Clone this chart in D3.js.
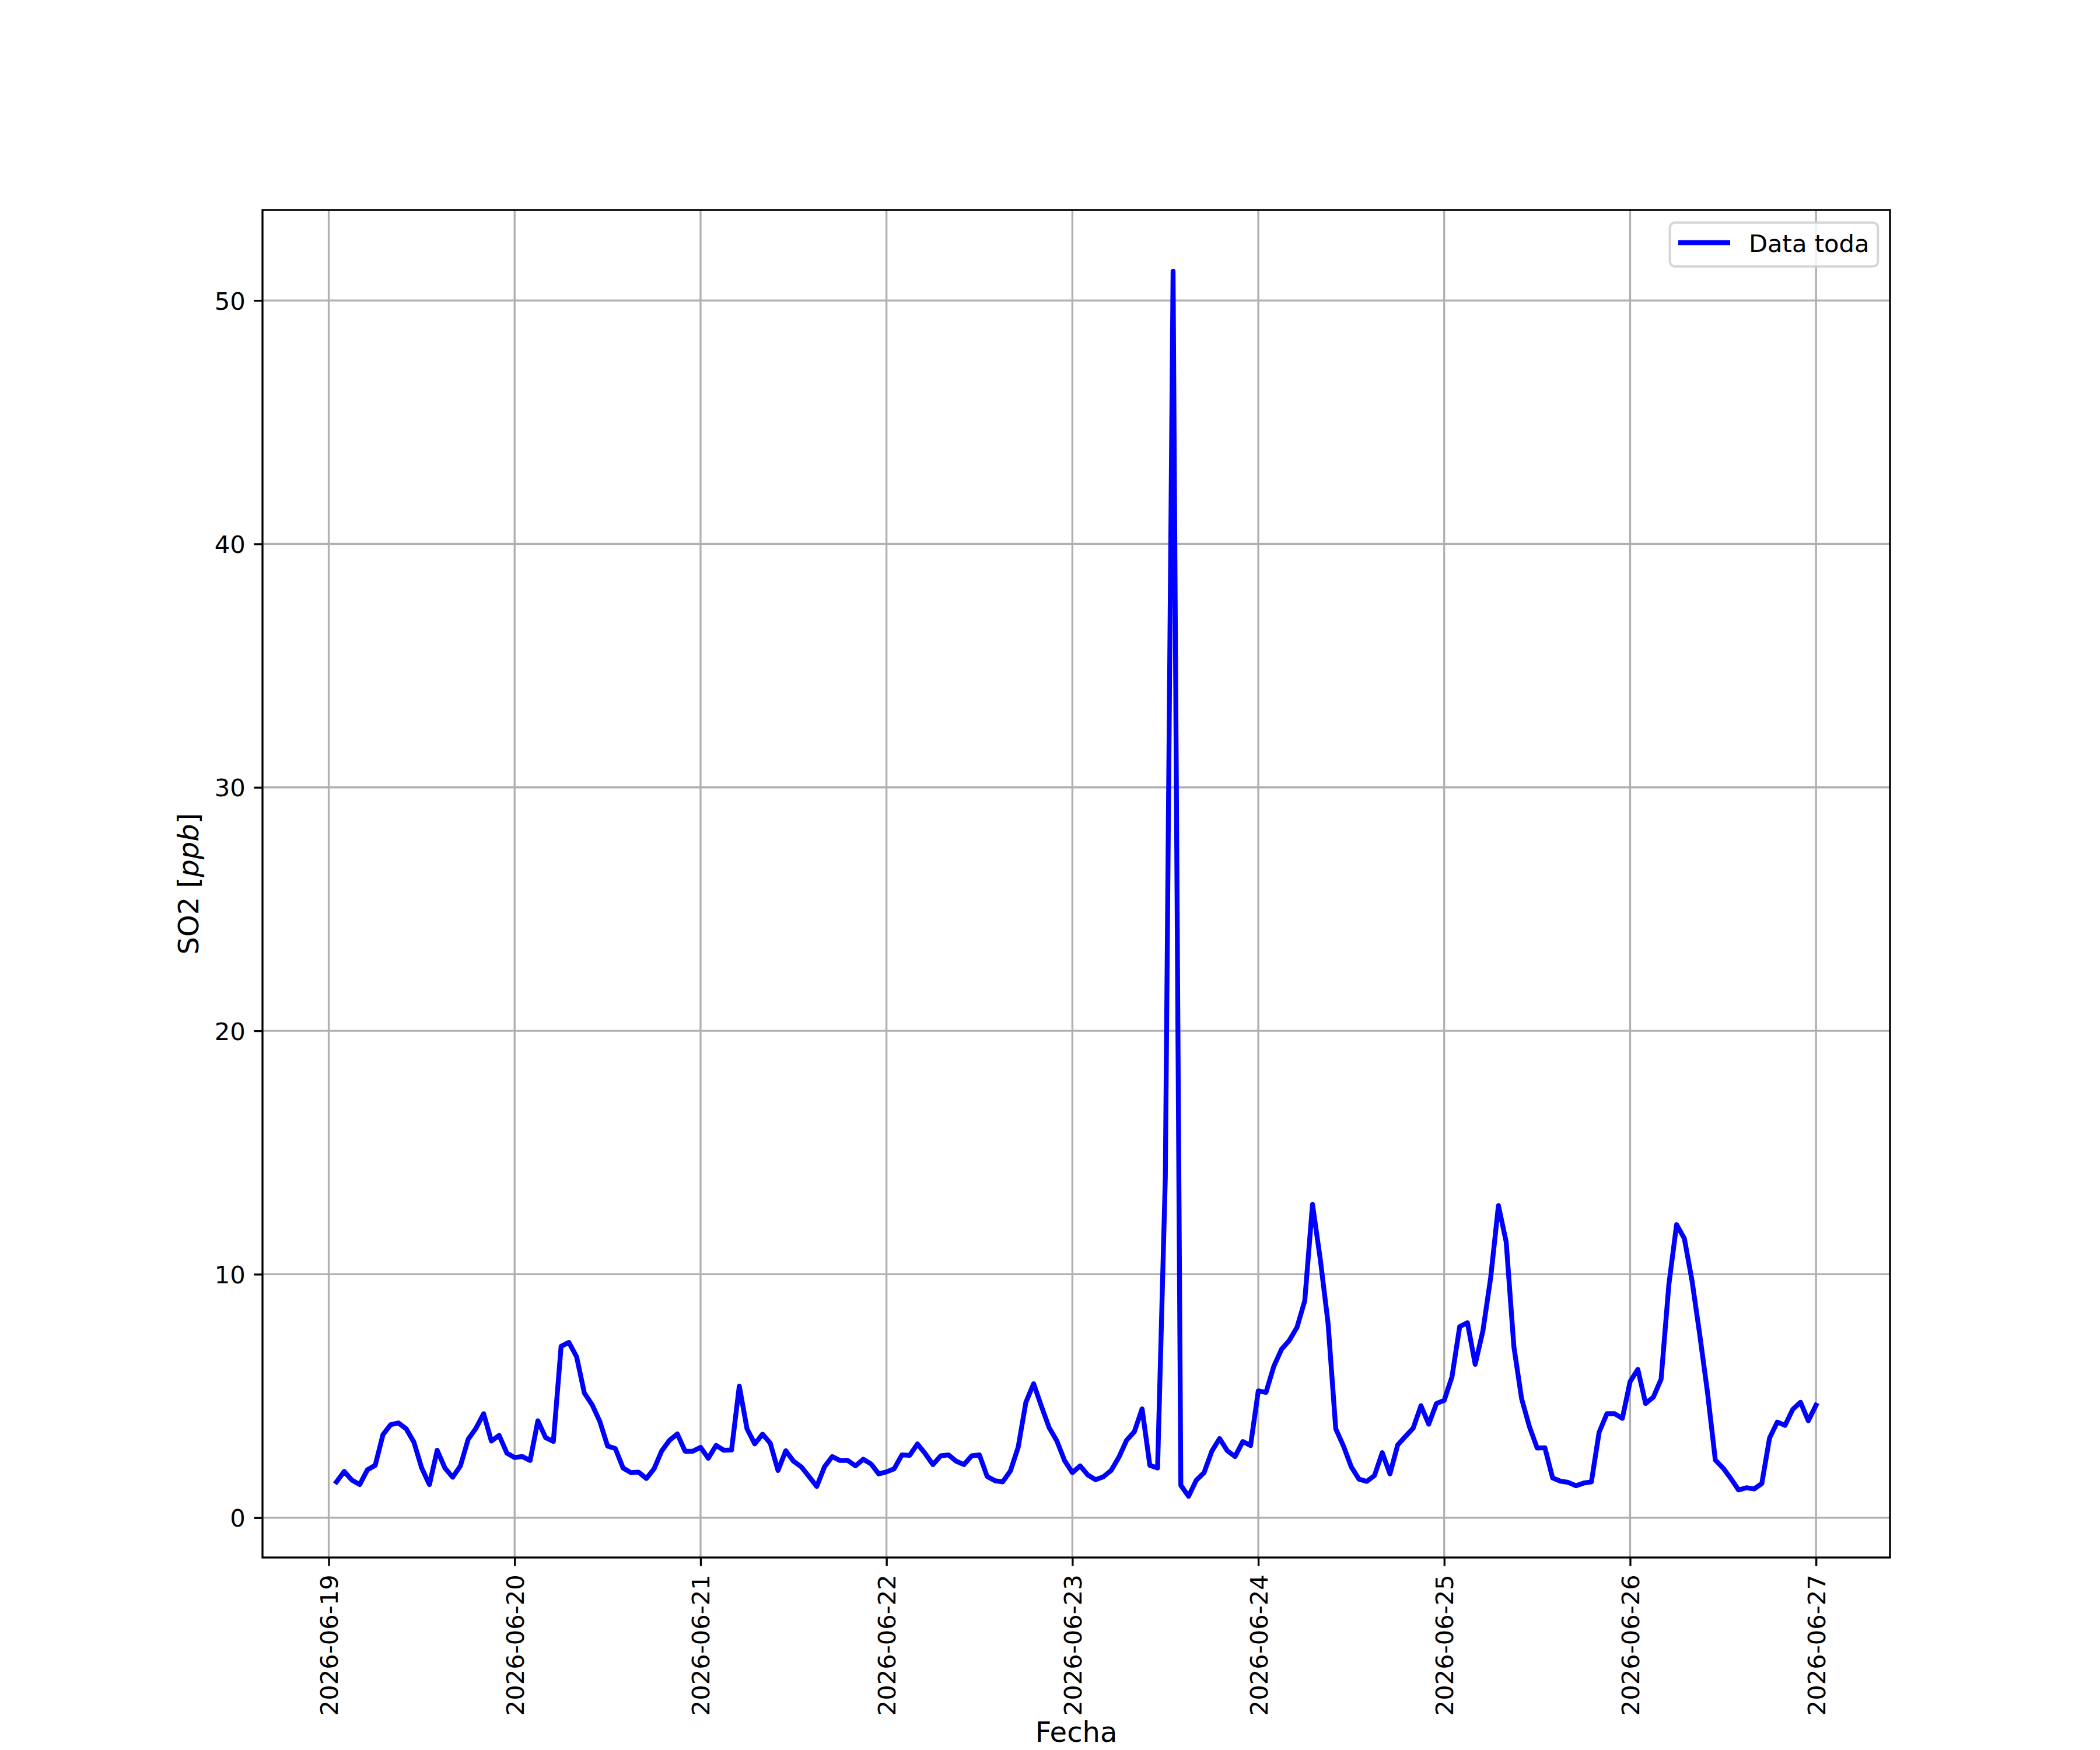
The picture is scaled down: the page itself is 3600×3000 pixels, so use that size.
<!DOCTYPE html>
<html>
<head>
<meta charset="utf-8">
<script src="https://cdn.jsdelivr.net/npm/d3@7"></script>
<style>
  html, body { margin: 0; padding: 0; background: #ffffff; }
  svg { display: block; }
  text { font-family: "DejaVu Sans", sans-serif; }
</style>
</head>
<body>
<script>
// ---------------- DATA ----------------
const dayLabels = ["2026-06-19", "2026-06-20", "2026-06-21", "2026-06-22", "2026-06-23",
                   "2026-06-24", "2026-06-25", "2026-06-26", "2026-06-27"];
const yTicks = [0, 10, 20, 30, 40, 50];
const seriesName = "Data toda";
const firstHourOfFirstDay = 1;   // series starts 2026-06-19 01:00

// hourly SO2 [ppb]; each array starts at that day's first sample
const so2Jun19 = [1.47, 1.90, 1.54, 1.36, 1.97, 2.15, 3.41, 3.82, 3.89, 3.65, 3.10, 2.04,
                  1.36, 2.77, 2.04, 1.66, 2.13, 3.22, 3.67, 4.27, 3.15, 3.38, 2.65];
const so2Jun20 = [2.47, 2.51, 2.35, 3.98, 3.29, 3.13, 7.04, 7.20, 6.61, 5.12, 4.64, 3.95,
                  2.94, 2.84, 2.04, 1.85, 1.87, 1.61, 2.01, 2.75, 3.18, 3.44, 2.73, 2.73];
const so2Jun21 = [2.89, 2.44, 2.97, 2.77, 2.78, 5.40, 3.65, 3.03, 3.43, 3.06, 1.94, 2.75,
                  2.32, 2.09, 1.69, 1.28, 2.09, 2.51, 2.35, 2.35, 2.13, 2.40, 2.21, 1.80];
const so2Jun22 = [1.88, 2.01, 2.58, 2.56, 3.03, 2.63, 2.18, 2.54, 2.58, 2.32, 2.18, 2.54,
                  2.58, 1.69, 1.52, 1.47, 1.92, 2.89, 4.74, 5.50, 4.58, 3.70, 3.15, 2.34];
const so2Jun23 = [1.85, 2.13, 1.75, 1.56, 1.68, 1.94, 2.48, 3.18, 3.53, 4.47, 2.15, 2.04,
                  14.0, 51.2, 1.33, 0.88, 1.54, 1.85, 2.73, 3.25, 2.75, 2.51, 3.13, 2.96];
const so2Jun24 = [5.21, 5.15, 6.21, 6.92, 7.28, 7.82, 8.91, 12.87, 10.62, 8.01, 3.65, 2.94,
                  2.09, 1.58, 1.49, 1.73, 2.67, 1.80, 2.99, 3.34, 3.68, 4.60, 3.84, 4.69];
const so2Jun25 = [4.82, 5.78, 7.85, 8.01, 6.30, 7.68, 9.86, 12.82, 11.33, 7.01, 4.88, 3.74,
                  2.86, 2.87, 1.63, 1.50, 1.45, 1.31, 1.42, 1.47, 3.51, 4.27, 4.27, 4.08];
const so2Jun26 = [5.59, 6.09, 4.69, 4.95, 5.69, 9.57, 12.04, 11.47, 9.72, 7.49, 5.12, 2.37,
                  2.04, 1.61, 1.14, 1.23, 1.18, 1.40, 3.27, 3.93, 3.79, 4.45, 4.74, 3.98];
const so2Jun27 = [4.62];

// ---------------- BUILD ----------------
const dailyArrays = [so2Jun19, so2Jun20, so2Jun21, so2Jun22, so2Jun23, so2Jun24, so2Jun25, so2Jun26, so2Jun27];
const parseDay = d3.utcParse("%Y-%m-%d");
const dayDates = dayLabels.map(parseDay);
const data = [];
dailyArrays.forEach((arr, i) => {
  const startHour = i === 0 ? firstHourOfFirstDay : 0;
  arr.forEach((v, j) => {
    data.push({ t: d3.utcHour.offset(dayDates[i], startHour + j), v: v });
  });
});

// ---------------- LAYOUT ----------------
const W = 3600, H = 3000;
const L = 450, R = 3240, T = 360, B = 2670;
const PT = 300 / 72;               // px per point
const tickFont = 10 * PT;          // 41.67
const labelFont = 48;
const tickLen = 3.5 * PT;
const tickPad = 3.5 * PT;
const thin = 0.8 * PT;
const lineW = 2 * PT;

const tExt = d3.extent(data, d => d.t);
const tSpan = tExt[1] - tExt[0];
const x = d3.scaleUtc()
  .domain([new Date(+tExt[0] - 0.05 * tSpan), new Date(+tExt[1] + 0.05 * tSpan)])
  .range([L, R]);

const vExt = d3.extent(data, d => d.v);
const vSpan = vExt[1] - vExt[0];
const y = d3.scaleLinear()
  .domain([vExt[0] - 0.05 * vSpan, vExt[1] + 0.05 * vSpan])
  .range([B, T]);

const svg = d3.select("body").append("svg")
  .attr("width", W).attr("height", H)
  .attr("viewBox", `0 0 ${W} ${H}`);
svg.append("rect").attr("width", W).attr("height", H).attr("fill", "#ffffff");

svg.append("defs").append("clipPath").attr("id", "plotclip")
  .append("rect").attr("x", L).attr("y", T).attr("width", R - L).attr("height", B - T);

// grid
const grid = svg.append("g").attr("clip-path", "url(#plotclip)");
grid.selectAll("line.gx").data(dayDates).enter().append("line")
  .attr("x1", d => x(d)).attr("x2", d => x(d))
  .attr("y1", T).attr("y2", B)
  .attr("stroke", "#b0b0b0").attr("stroke-width", thin);
grid.selectAll("line.gy").data(yTicks).enter().append("line")
  .attr("x1", L).attr("x2", R)
  .attr("y1", d => y(d)).attr("y2", d => y(d))
  .attr("stroke", "#b0b0b0").attr("stroke-width", thin);

// line
const line = d3.line().x(d => x(d.t)).y(d => y(d.v));
svg.append("g").attr("clip-path", "url(#plotclip)")
  .append("path").datum(data)
  .attr("d", line)
  .attr("fill", "none")
  .attr("stroke", "#0000ff")
  .attr("stroke-width", lineW)
  .attr("stroke-linejoin", "round")
  .attr("stroke-linecap", "square");

// axes
const xAxisG = svg.append("g").attr("transform", `translate(0,${B})`)
  .call(d3.axisBottom(x).tickValues(dayDates).tickFormat(d3.utcFormat("%Y-%m-%d"))
        .tickSize(tickLen).tickPadding(tickPad));
xAxisG.select(".domain").remove();
xAxisG.selectAll(".tick line").attr("stroke", "#000").attr("stroke-width", thin);
xAxisG.selectAll(".tick text")
  .attr("transform", "rotate(-90)")
  .attr("x", -(tickLen + tickPad))
  .attr("y", 0)
  .attr("dy", "0.36em")
  .attr("text-anchor", "end")
  .attr("fill", "#000")
  .style("font-size", tickFont + "px")
  .style("font-family", "DejaVu Sans");

const yAxisG = svg.append("g").attr("transform", `translate(${L},0)`)
  .call(d3.axisLeft(y).tickValues(yTicks).tickFormat(d3.format("d"))
        .tickSize(tickLen).tickPadding(tickPad));
yAxisG.select(".domain").remove();
yAxisG.selectAll(".tick line").attr("stroke", "#000").attr("stroke-width", thin);
yAxisG.selectAll(".tick text")
  .attr("dy", "0.36em")
  .attr("fill", "#000")
  .style("font-size", tickFont + "px")
  .style("font-family", "DejaVu Sans");

// spines
svg.append("rect")
  .attr("x", L).attr("y", T).attr("width", R - L).attr("height", B - T)
  .attr("fill", "none").attr("stroke", "#000").attr("stroke-width", thin);

// axis labels
svg.append("text")
  .attr("x", (L + R) / 2).attr("y", 2986)
  .attr("text-anchor", "middle")
  .style("font-size", labelFont + "px")
  .attr("fill", "#000")
  .text("Fecha");

const yl = svg.append("text")
  .attr("transform", `translate(340,${(T + B) / 2}) rotate(-90)`)
  .attr("text-anchor", "middle")
  .style("font-size", labelFont + "px")
  .attr("fill", "#000");
yl.append("tspan").text("SO2 [");
yl.append("tspan").style("font-style", "italic").text("ppb");
yl.append("tspan").text("]");

// legend
const lg = svg.append("g");
const lgX = 2862.7, lgY = 381.7, lgW = 356.6, lgH = 75;
lg.append("rect")
  .attr("x", lgX).attr("y", lgY).attr("width", lgW).attr("height", lgH)
  .attr("rx", 0.2 * tickFont).attr("ry", 0.2 * tickFont)
  .attr("fill", "#ffffff").attr("fill-opacity", 0.8)
  .attr("stroke", "#cccccc").attr("stroke-opacity", 0.8)
  .attr("stroke-width", 1.0 * PT);
lg.append("line")
  .attr("x1", 2877).attr("x2", 2966)
  .attr("y1", 416).attr("y2", 416)
  .attr("stroke", "#0000ff").attr("stroke-width", lineW)
  .attr("stroke-linecap", "butt");
lg.append("text")
  .attr("x", 2998).attr("y", 431.5)
  .style("font-size", tickFont + "px")
  .attr("fill", "#000")
  .text(seriesName);
</script>
</body>
</html>
